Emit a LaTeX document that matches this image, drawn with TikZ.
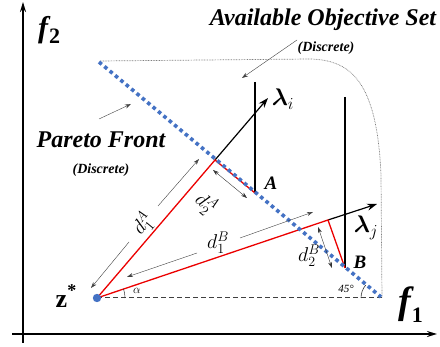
\RequirePackage{fix-cm}
\documentclass[tikz,border=0pt]{standalone}
\usepackage{amsmath,bm}
\usepackage{fontspec}
\setmainfont{Liberation Serif}
\usetikzlibrary{arrows.meta,calc}
\definecolor{pblue}{RGB}{68,114,196}
\definecolor{pred}{RGB}{235,0,0}
\begin{document}
\begin{tikzpicture}[x=1pt,y=-1pt,
 axis/.style={line width=1.6pt,-{Stealth[length=10pt,width=6pt]}},
 ray/.style={line width=1.2pt,-{Stealth[length=10pt,width=7pt]}},
 vbar/.style={line width=1.4pt},
 redl/.style={line width=1.3pt,pred},
 note/.style={line width=0.4pt,black!75,-{Stealth[length=6pt,width=4pt]}},
 dimar/.style={line width=0.4pt,black!80,{Stealth[length=6pt,width=4pt]}-{Stealth[length=6pt,width=4pt]}},
 title/.style={font=\fontsize{24}{24}\selectfont\bfseries\itshape,inner sep=0pt},
 subt/.style={font=\fontsize{14}{14}\selectfont\bfseries\itshape,inner sep=0pt},
 ptl/.style={font=\fontsize{19}{19}\selectfont\bfseries\itshape,inner sep=0pt},
 dl/.style={font=\fontsize{20}{20}\selectfont,inner sep=1pt},
 laml/.style={font=\fontsize{24}{24}\selectfont,inner sep=0pt},
 axl/.style={inner sep=0pt,font=\bfseries\itshape},
]
\useasboundingbox (0,0) rectangle (440,347);

% coordinates
\coordinate (zs) at (97,298);
\coordinate (PA) at (215,160);
\coordinate (A) at (255,193);
\coordinate (Li) at (268,98);
\coordinate (PB) at (328,220);
\coordinate (B) at (345,268);
\coordinate (Lj) at (377,204);
\coordinate (F1) at (99,62);
\coordinate (F2) at (381,297);
\coordinate (yb) at (23,343);
\coordinate (yt) at (23,2);
\coordinate (xl) at (12,334);
\coordinate (xr) at (437,334);
\coordinate (dend) at (383,298);
\coordinate (vA) at (255,82);
\coordinate (vB) at (345,97);

% available objective set boundary
\draw[gray,line width=0.7pt,dash pattern=on 0.8pt off 0.8pt]
  (100,61) -- (310,59) .. controls (350,60) and (377,80) .. (381,175) -- (382,298);

% dashed horizontal
\draw[black!75,line width=1pt,dash pattern=on 5pt off 3pt] (zs) -- (dend);

% axes
\draw[axis] (yb) -- (yt);
\draw[axis] (xl) -- (xr);

% vertical bars
\draw[vbar] (vA) -- (A);
\draw[vbar] (vB) -- (B);

% lambda rays
\draw[ray] (PA) -- (Li);
\draw[ray] (PB) -- (Lj);

% red lines
\draw[redl] (zs) -- (PA) -- (A);
\draw[redl] (zs) -- (PB) -- (B);

% pareto front
\draw[pblue,line width=3.6pt,dash pattern=on 3.6pt off 3.4pt] (F1) -- (F2);

% z* point
\fill[pblue] (zs) circle[radius=4.2pt];

% angles
\draw[black!80,line width=0.5pt] ($(zs)+(28,0)$) arc[start angle=0,end angle=-19,radius=28];
\draw[black!80,line width=0.6pt] ($(F2)+(-20,1)$) arc[start angle=180,end angle=220,radius=20];

% notes
\node[title] (avail) at (323,20) {Available Objective Set};
\node[subt] (disc1) at (326,48) {(Discrete)};
\coordinate (availS) at (297,40);
\coordinate (availE) at (242,78);
\draw[note] (availS) -- (availE);

\node[title] (pareto) at (101,140) {Pareto Front};
\node[subt] (disc2) at (101,170) {(Discrete)};
\coordinate (parS) at (99,119);
\coordinate (parE) at (131,104);
\draw[note] (parS) -- (parE);

% d1^A
\node[dl,rotate=50] (dA1) at (143,224) {$d_1^A$};
\coordinate (dA1a) at (91,288);
\coordinate (dA1b) at (199,159);
\coordinate (dA1g1) at (129,242);
\coordinate (dA1g2) at (158,206);
\draw[note] (dA1g1) -- (dA1a);
\draw[note] (dA1g2) -- (dA1b);

% d1^B
\node[dl] (dB1) at (218,243) {$d_1^B$};
\coordinate (dB1a) at (127,277);
\coordinate (dB1b) at (313,212);
\coordinate (dB1g1) at (197,253);
\coordinate (dB1g2) at (240,238);
\draw[note] (dB1g1) -- (dB1a);
\draw[note] (dB1g2) -- (dB1b);

% d2^A
\coordinate (dA2a) at (213,170);
\coordinate (dA2b) at (247,198);
\draw[dimar] (dA2a) -- (dA2b);
\node[dl,rotate=-40] (dA2) at (206,204) {$d_2^A$};

% d2^B
\coordinate (dB2a) at (318,227);
\coordinate (dB2b) at (332,268);
\draw[dimar] (dB2a) -- (dB2b);
\node[dl] (dB2) at (309,256) {$d_2^B$};

% lambda labels
\node[laml] (li) at (283,99) {$\bm{\lambda}_i$};
\node[laml] (lj) at (366,228) {$\bm{\lambda}_j$};

% points
\node[ptl] (Alab) at (271,183) {A};
\node[ptl] (Blab) at (360,262) {B};

% small angle labels
\node[inner sep=0pt,font=\fontsize{12}{12}\selectfont] (alab) at (137,291) {$\alpha$};
\node[inner sep=0pt,font=\fontsize{11}{11}\selectfont\itshape] (deg) at (346,289) {45°};

% z*
\node[inner sep=0pt,font=\fontsize{26}{26}\selectfont\bfseries] (zl) at (66,296) {z\raisebox{0.45em}{\fontsize{18}{18}\selectfont *}};

% axis labels
\node[axl,anchor=base west] (f2) at (38,38) {\fontsize{30}{30}\selectfont f\hspace{1pt}\raisebox{-0.18em}{\fontsize{22}{22}\selectfont\upshape 2}};
\node[axl,anchor=base west] (f1) at (398,314) {\fontsize{38}{38}\selectfont f\hspace{1pt}\raisebox{-0.22em}{\fontsize{22}{22}\selectfont\upshape 1}};
\end{tikzpicture}
\end{document}
